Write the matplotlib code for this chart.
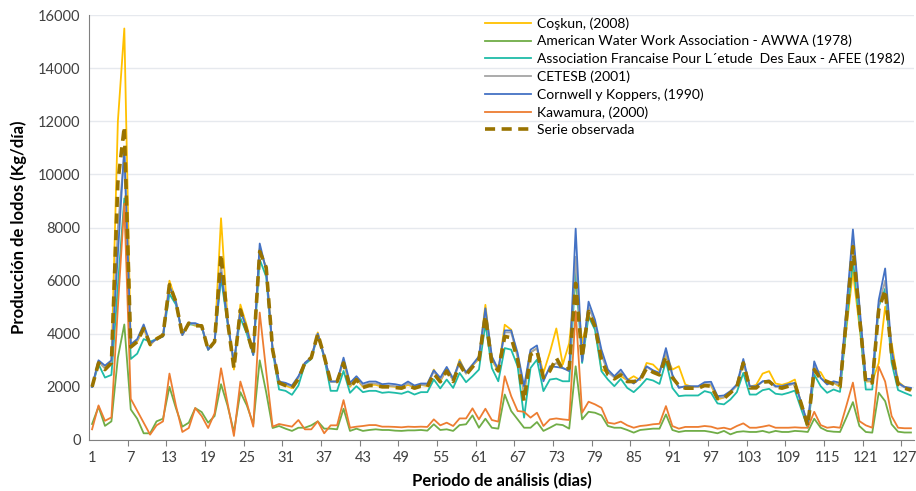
import matplotlib.pyplot as plt
import numpy as np

periods = np.arange(1, 129)

coskun = [2000, 2950, 2700, 2950, 12000, 15500, 3500, 3700, 4200, 3550, 3850, 3950, 6000, 5250, 3950, 4400,
          4300, 4300, 3400, 3700, 8350, 4600, 2650, 5100, 4300, 3300, 7200, 6500, 3450, 2150, 2050, 1950,
          2350, 2900, 3100, 4050, 3150, 2200, 2200, 2950, 2000, 2300, 2000, 2075, 2075, 2000, 2025, 2000,
          1975, 2075, 1975, 2075, 2025, 2650, 2200, 2650, 2250, 3025, 2500, 2800, 3050, 5090, 3000, 2600,
          4340, 4150, 3100, 1700, 3300, 3450, 2525, 3300, 4200, 2840, 3650, 6000, 3650, 4700, 4300, 2650,
          2550, 2400, 2400, 2250, 2400, 2250, 2900, 2840, 2600, 3200, 2650, 2775, 2090, 2000, 2000, 2075,
          2050, 1525, 1600, 1800, 2050, 2950, 2000, 2075, 2500, 2590, 2125, 2075, 2150, 2275, 1350, 525,
          2650, 2550, 2125, 2150, 2000, 4200, 6340, 4300, 2200, 2200, 2900, 5020, 3650, 2200, 2000, 1900]

awwa = [600, 1250, 530, 700, 3100, 4350, 1150, 800, 250, 250, 700, 800, 2000, 1200, 500, 650,
        1200, 1050, 650, 900, 2100, 1300, 300, 1800, 1300, 600, 3000, 1800, 450, 525, 425, 340,
        460, 460, 550, 700, 425, 425, 400, 1175, 340, 425, 340, 375, 400, 375, 375, 350,
        340, 360, 360, 375, 350, 590, 375, 400, 340, 560, 590, 925, 460, 800, 460, 425,
        1710, 1090, 775, 460, 460, 675, 340, 460, 590, 560, 425, 2775, 775, 1060, 1025, 925,
        525, 460, 460, 375, 275, 375, 400, 425, 425, 960, 375, 300, 340, 340, 340, 340,
        300, 250, 340, 210, 300, 325, 300, 300, 340, 275, 340, 300, 300, 340, 325, 300,
        800, 460, 340, 310, 300, 850, 1425, 525, 300, 275, 1780, 1460, 590, 310, 280, 280]

afee = [2000, 2850, 2350, 2450, 5800, 9100, 3050, 3250, 3800, 3700, 3800, 3900, 5500, 5100, 4000, 4350,
        4350, 4250, 3400, 3700, 6100, 4400, 2900, 4600, 4000, 3200, 6800, 6150, 3350, 1900, 1850, 1700,
        2050, 2850, 3050, 3950, 3100, 1850, 1850, 2600, 1775, 2025, 1800, 1850, 1850, 1775, 1800, 1775,
        1740, 1825, 1710, 1800, 1800, 2275, 1940, 2275, 1960, 2525, 2175, 2400, 2650, 4375, 2710, 2210,
        3460, 3400, 2775, 840, 2710, 3025, 1840, 2275, 2310, 2210, 2210, 6400, 2900, 4650, 4150, 2590,
        2275, 2025, 2300, 1960, 1800, 2025, 2300, 2240, 2110, 2960, 1960, 1650, 1675, 1675, 1675, 1840,
        1775, 1375, 1340, 1525, 1800, 2525, 1710, 1710, 1875, 1925, 1740, 1710, 1775, 1860, 1150, 460,
        2460, 2025, 1775, 1900, 1810, 4400, 6790, 4500, 1900, 1900, 5025, 5700, 2910, 1880, 1775, 1675]

cetesb = [2000, 2950, 2700, 2950, 8000, 10800, 3550, 3750, 4250, 3600, 3800, 3950, 5800, 5200, 3950, 4400,
          4350, 4300, 3400, 3700, 6600, 4500, 2800, 4900, 4150, 3250, 7200, 6450, 3400, 2150, 2100, 2000,
          2350, 2900, 3100, 4000, 3150, 2200, 2200, 3000, 2050, 2325, 2050, 2125, 2125, 2050, 2050, 2025,
          2000, 2125, 2000, 2075, 2075, 2575, 2250, 2650, 2250, 2900, 2500, 2800, 3100, 4800, 3050, 2625,
          4050, 4050, 3150, 1800, 3300, 3450, 2300, 2700, 2900, 2700, 2650, 6900, 3000, 5000, 4400, 3200,
          2550, 2350, 2550, 2250, 2150, 2300, 2750, 2600, 2500, 3300, 2400, 2000, 2000, 2000, 2000, 2100,
          2100, 1600, 1600, 1800, 2050, 2950, 2000, 2000, 2200, 2200, 2000, 2000, 2050, 2125, 1375, 560,
          2800, 2325, 2150, 2150, 2075, 4800, 7600, 4900, 2225, 2225, 5100, 6000, 3300, 2125, 1975, 1925]

cornwell = [2000, 3000, 2800, 3000, 7000, 11000, 3600, 3800, 4350, 3650, 3800, 3900, 5800, 5200, 3950, 4400,
            4400, 4300, 3400, 3700, 6300, 4500, 2900, 4900, 4200, 3200, 7400, 6400, 3400, 2200, 2150, 2050,
            2400, 2900, 3100, 4000, 3150, 2200, 2200, 3100, 2150, 2400, 2125, 2200, 2200, 2100, 2125, 2100,
            2050, 2200, 2050, 2125, 2125, 2625, 2340, 2750, 2310, 2960, 2550, 2840, 3150, 4960, 3150, 2650,
            4125, 4125, 3275, 2025, 3400, 3560, 2210, 2775, 2750, 2710, 2590, 7960, 2960, 5210, 4525, 3400,
            2650, 2400, 2650, 2300, 2125, 2340, 2775, 2625, 2525, 3460, 2460, 1960, 2025, 2025, 2025, 2175,
            2190, 1650, 1675, 1840, 2090, 3050, 2025, 2025, 2210, 2240, 2025, 2025, 2100, 2150, 1400, 590,
            2960, 2340, 2090, 2210, 2150, 5000, 7930, 5100, 2300, 2300, 5270, 6460, 3390, 2150, 2000, 1960]

kawamura = [400, 1300, 720, 850, 5000, 8900, 1550, 1100, 650, 200, 550, 700, 2500, 1300, 300, 450,
            1200, 900, 450, 1000, 2700, 1400, 150, 2200, 1400, 500, 4800, 2600, 500, 600, 550, 500,
            750, 400, 400, 700, 250, 550, 550, 1500, 460, 500, 525, 560, 560, 500, 500, 490,
            475, 500, 490, 500, 490, 775, 550, 650, 525, 810, 810, 1190, 775, 1175, 750, 690,
            2400, 1650, 1090, 1060, 840, 1025, 525, 775, 810, 775, 750, 4850, 1025, 1440, 1340, 1210,
            650, 610, 690, 550, 460, 525, 550, 590, 610, 1275, 525, 425, 490, 490, 490, 525,
            500, 425, 460, 400, 525, 625, 460, 460, 500, 550, 460, 460, 460, 475, 460, 460,
            1060, 560, 460, 490, 460, 1300, 2160, 710, 550, 460, 2760, 2200, 900, 460, 440, 440]

observada = [2000, 2900, 2650, 2900, 9700, 11800, 3500, 3700, 4200, 3600, 3800, 3950, 5850, 5200, 3950, 4400,
             4300, 4300, 3400, 3700, 7000, 4500, 2700, 4900, 4100, 3250, 7100, 6500, 3400, 2150, 2050, 1950,
             2300, 2900, 3100, 4000, 3150, 2200, 2200, 2900, 1975, 2275, 1975, 2050, 2050, 2000, 2000, 1975,
             1950, 2050, 1950, 2025, 2000, 2500, 2190, 2600, 2200, 2850, 2450, 2750, 3025, 4675, 2900, 2600,
             3900, 3850, 3025, 1460, 3210, 3340, 2350, 2600, 3090, 2650, 2700, 5900, 3100, 4840, 4275, 3025,
             2460, 2300, 2450, 2200, 2200, 2250, 2700, 2550, 2450, 3150, 2350, 2050, 1950, 1950, 1950, 2050,
             2025, 1560, 1560, 1775, 2000, 2900, 1960, 1960, 2175, 2200, 2000, 1950, 2025, 2100, 1350, 525,
             2650, 2300, 2200, 2100, 2000, 4600, 7280, 4700, 2150, 2150, 4900, 5650, 3250, 2100, 1950, 1875]

plt.rcParams['font.family'] = ['Lato', 'DejaVu Sans']

fig, ax = plt.subplots(figsize=(9.16, 4.91), dpi=100)
plt.subplots_adjust(left=0.097, right=0.998, bottom=0.104, top=0.969)

lw = 1.3
ax.plot(periods, coskun, color='#FFC000', lw=lw, label='Coşkun, (2008)')
ax.plot(periods, awwa, color='#70AD47', lw=lw, label='American Water Work Association - AWWA (1978)')
ax.plot(periods, afee, color='#1FBCA8', lw=lw,
        label='Association Francaise Pour L\u00b4etude  Des Eaux - AFEE (1982)')
ax.plot(periods, cetesb, color='#A5A5A5', lw=lw, label='CETESB (2001)')
ax.plot(periods, cornwell, color='#4472C4', lw=lw, label='Cornwell y Koppers, (1990)')
ax.plot(periods, kawamura, color='#ED7D31', lw=lw, label='Kawamura, (2000)')
ax.plot(periods, observada, color='#997300', lw=2.6, dashes=(2.8, 1.8), label='Serie observada')

ax.set_xlim(0.5, 128.5)
ax.set_ylim(0, 16000)
ax.set_yticks(np.arange(0, 16001, 2000))
ax.grid(axis='y', color='#E6E9EE', lw=1)
ax.set_axisbelow(True)

# category labels every 6, tick marks between categories
ax.set_xticks(np.arange(6.5, 128, 6))
ax.set_xticklabels([])
ax.set_xticks(np.arange(1, 128, 6), minor=True)
ax.set_xticklabels([str(v) for v in range(1, 128, 6)], minor=True)
ax.tick_params(axis='x', which='major', length=4, color='#808080', direction='out')
ax.tick_params(axis='x', which='minor', length=0, pad=8, labelsize=10.5, labelcolor='#404040')
ax.tick_params(axis='y', length=0, pad=6, labelsize=10.5, labelcolor='#404040')

for s in ['top', 'right']:
    ax.spines[s].set_visible(False)
ax.spines['left'].set_color('#808080')
ax.spines['bottom'].set_color('#808080')

ax.set_xlabel('Periodo de análisis (dias)', fontsize=12, fontweight='bold', labelpad=6)
ax.set_ylabel('Producción de lodos (Kg/día)', fontsize=12, fontweight='bold', labelpad=8)

ax.legend(loc='upper left', bbox_to_anchor=(0.519, 0.985), bbox_transform=fig.transFigure,
          frameon=False, fontsize=10, handlelength=3.3, handletextpad=0.4,
          labelspacing=0.38, borderpad=0.2)

plt.savefig('out.png', dpi=100)
